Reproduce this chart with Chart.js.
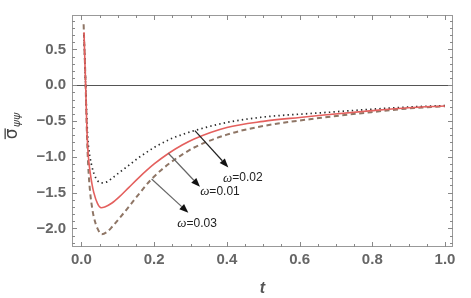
<!DOCTYPE html>
<html>
<head>
<meta charset="utf-8">
<script src="https://cdn.jsdelivr.net/npm/chart.js@4/dist/chart.umd.min.js"></script>
<style>
html,body{margin:0;padding:0;background:#fff;}
#wrap{position:relative;width:471px;height:298px;}
</style>
</head>
<body>
<div id="wrap"><canvas id="c" width="471" height="298"></canvas></div>
<script>
// ---- data ----
const tRed  = [0.007,0.0115,0.014,0.017,0.02,0.024,0.029,0.034,0.044,0.054,0.064,0.084,0.104,0.13,0.158,0.2,0.24,0.277,0.31,0.4,0.5,0.6,0.66,0.8,0.9,1.0];
const sRed  = [0.74,0.0,-0.45,-0.85,-1.05,-1.22,-1.38,-1.5,-1.65,-1.71,-1.70,-1.645,-1.56,-1.43,-1.29,-1.10,-0.95,-0.835,-0.75,-0.59,-0.505,-0.45,-0.42,-0.355,-0.315,-0.29];
const tDash = [0.006,0.0115,0.014,0.017,0.02,0.024,0.029,0.034,0.044,0.056,0.07,0.084,0.104,0.13,0.158,0.193,0.245,0.277,0.31,0.4,0.5,0.66,0.8,0.9,1.0];
const sDash = [0.85,0.0,-0.5,-0.95,-1.25,-1.5,-1.7,-1.84,-2.0,-2.08,-2.05,-1.98,-1.86,-1.70,-1.52,-1.31,-1.08,-0.97,-0.87,-0.69,-0.57,-0.455,-0.375,-0.325,-0.295];
const tDot  = [0.007,0.0115,0.014,0.017,0.02,0.024,0.029,0.034,0.044,0.056,0.07,0.084,0.104,0.13,0.158,0.2,0.25,0.277,0.31,0.4,0.5,0.66,0.8,0.9,1.0];
const sDot  = [0.7,0.0,-0.35,-0.7,-0.88,-1.02,-1.14,-1.23,-1.33,-1.365,-1.35,-1.3,-1.22,-1.12,-1.01,-0.87,-0.74,-0.69,-0.635,-0.52,-0.445,-0.385,-0.335,-0.305,-0.285];

const xTicks = [0.0,0.2,0.4,0.6,0.8,1.0];
const yTicks = [0.5,0.0,-0.5,-1.0,-1.5,-2.0];
const seriesLabels = ["\u03c9=0.01","\u03c9=0.02","\u03c9=0.03"];

// annotation arrows (data coordinates): start on curve, arrow tip, label centre
const annStart = [[0.239,-0.95],[0.312,-0.635],[0.193,-1.31]];
const annEnd   = [[0.326,-1.419],[0.404,-1.148],[0.294,-1.78]];
const annText  = [[0.381,-1.486],[0.444,-1.297],[0.318,-1.934]];

const toPts = (ts, ss) => ts.map((t,i)=>({x:t,y:ss[i]}));

const frameLayer = {
  id:'frameLayer',
  beforeDatasetsDraw(chart){
    const {ctx, chartArea:a, scales:{x,y}} = chart;
    ctx.save();
    ctx.strokeStyle = '#555';
    ctx.lineWidth = 1;
    const y0 = Math.round(y.getPixelForValue(0))+0.5;
    ctx.beginPath(); ctx.moveTo(a.left,y0); ctx.lineTo(a.right,y0); ctx.stroke();
    ctx.restore();
  },
  afterDatasetsDraw(chart){
    const {ctx, chartArea:a, scales:{x,y}} = chart;
    ctx.save();
    ctx.strokeStyle = '#999';
    ctx.lineWidth = 1;
    ctx.strokeRect(Math.round(a.left)+0.5, Math.round(a.top)+0.5, Math.round(a.right-a.left)-1, Math.round(a.bottom-a.top)-1);
    // inside ticks
    ctx.strokeStyle = '#888';
    ctx.beginPath();
    for (let k=0;k<=20;k++){
      const v = k*0.05;
      const px = Math.round(x.getPixelForValue(v))+0.5;
      const len = (k%4===0)?5:3;
      ctx.moveTo(px,a.bottom); ctx.lineTo(px,a.bottom-len);
      ctx.moveTo(px,a.top); ctx.lineTo(px,a.top+len);
    }
    for (let k=-22;k<=9;k++){
      const v = k*0.1;
      const py = Math.round(y.getPixelForValue(v))+0.5;
      const len = (k%5===0)?5:3;
      ctx.moveTo(a.left,py); ctx.lineTo(a.left+len,py);
      ctx.moveTo(a.right,py); ctx.lineTo(a.right-len,py);
    }
    ctx.stroke();

    // annotation arrows + labels
    const arrowCols = ['#666','#222','#666'];
    for (let i=0;i<annStart.length;i++){
      const x1 = x.getPixelForValue(annStart[i][0]), y1 = y.getPixelForValue(annStart[i][1]);
      const x2 = x.getPixelForValue(annEnd[i][0]),   y2 = y.getPixelForValue(annEnd[i][1]);
      const ang = Math.atan2(y2-y1,x2-x1);
      const hl = 9, hw = 3.5;
      const bx = x2 - hl*Math.cos(ang), by = y2 - hl*Math.sin(ang);
      ctx.strokeStyle = arrowCols[i]; ctx.fillStyle = '#111';
      ctx.lineWidth = 1.2;
      ctx.beginPath(); ctx.moveTo(x1,y1); ctx.lineTo(bx,by); ctx.stroke();
      ctx.beginPath();
      ctx.moveTo(x2,y2);
      ctx.lineTo(bx + hw*Math.sin(ang), by - hw*Math.cos(ang));
      ctx.lineTo(bx - hw*Math.sin(ang), by + hw*Math.cos(ang));
      ctx.closePath(); ctx.fill();
      const tx = x.getPixelForValue(annText[i][0]), ty = y.getPixelForValue(annText[i][1]);
      ctx.fillStyle = '#222';
      ctx.textBaseline = 'middle';
      ctx.font = 'italic 13px "Liberation Serif", serif';
      const om = ctx.measureText('\u03c9').width;
      ctx.font = '12px "Liberation Sans", Arial, sans-serif';
      const rest = seriesLabels[i].slice(1);
      const rw = ctx.measureText(rest).width;
      let sx = tx - (om+rw)/2;
      ctx.font = 'italic 13px "Liberation Serif", serif';
      ctx.textAlign = 'left';
      ctx.fillText('\u03c9', sx, ty);
      ctx.font = '12px "Liberation Sans", Arial, sans-serif';
      ctx.fillText(rest, sx+om, ty);
    }

    // y-axis title: sigma-bar with subscript psi psi (rotated)
    ctx.save();
    ctx.translate(17, 126);
    ctx.rotate(-Math.PI/2);
    ctx.fillStyle = '#444';
    ctx.textBaseline = 'alphabetic';
    ctx.textAlign = 'left';
    ctx.font = '17px "DejaVu Sans", sans-serif';
    const sw = ctx.measureText('\u03c3').width;
    ctx.font = 'italic 11px "DejaVu Sans", sans-serif';
    const subw = ctx.measureText('\u03c8\u03c8').width;
    const total = sw + subw + 1;
    const x0 = -total/2;
    ctx.font = '17px "DejaVu Sans", sans-serif';
    ctx.fillText('\u03c3', x0, 0);
    ctx.fillRect(x0, -12.5, sw, 1.3);
    ctx.font = 'italic 11px "DejaVu Sans", sans-serif';
    ctx.fillText('\u03c8\u03c8', x0+sw+1, 3);
    ctx.restore();
    ctx.restore();
  }
};

const fmt = v => (v<0?'\u2212':'') + Math.abs(v).toFixed(1);

new Chart(document.getElementById('c'), {
  type:'line',
  data:{
    datasets:[
      {label:seriesLabels[0], data:toPts(tRed,sRed), borderColor:'#e4605e', borderWidth:1.6, pointRadius:0, cubicInterpolationMode:'monotone', order:1},
      {label:seriesLabels[1], data:toPts(tDot,sDot), borderColor:'#2a2a2a', borderWidth:1.7, borderDash:[1.4,3.2], pointRadius:0, cubicInterpolationMode:'monotone', order:2},
      {label:seriesLabels[2], data:toPts(tDash,sDash), borderColor:'#8f7666', borderWidth:2, borderDash:[5,3.5], pointRadius:0, cubicInterpolationMode:'monotone', order:3}
    ]
  },
  options:{
    responsive:false,
    animation:false,
    devicePixelRatio:1,
    layout:{padding:{top:8,right:18,left:0,bottom:0}},
    plugins:{legend:{display:false}, tooltip:{enabled:false}},
    scales:{
      x:{
        type:'linear', min:-0.026, max:1.022,
        afterBuildTicks: s => { s.ticks = xTicks.map(v=>({value:v})); },
        afterFit: s => { s.height = 51; },
        grid:{display:false, drawTicks:false},
        border:{display:false},
        ticks:{padding:4, color:'#666', font:{family:'"Liberation Sans", Arial, sans-serif', size:15, weight:'bold'}, callback:v=>fmt(v), maxRotation:0},
        title:{display:true, text:'t', color:'#555', padding:{top:2,bottom:0}, font:{family:'"Liberation Sans", Arial, sans-serif', size:16, weight:'bold', style:'italic'}}
      },
      y:{
        type:'linear', min:-2.259, max:0.98,
        afterBuildTicks: s => { s.ticks = yTicks.map(v=>({value:v})); },
        afterFit: s => { s.width = 72; },
        grid:{display:false, drawTicks:false},
        border:{display:false},
        ticks:{padding:6, color:'#666', font:{family:'"Liberation Sans", Arial, sans-serif', size:15, weight:'bold'}, callback:v=>fmt(v)}
      }
    }
  },
  plugins:[frameLayer]
});
</script>
</body>
</html>
